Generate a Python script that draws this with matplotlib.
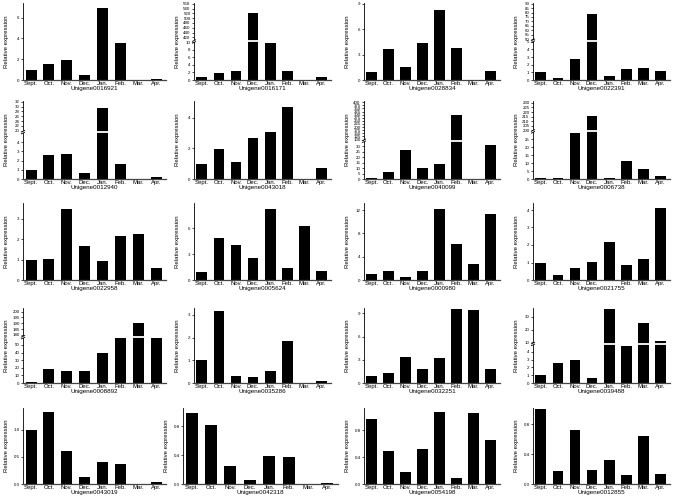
import numpy as np
import matplotlib
matplotlib.use('Agg')
import matplotlib.pyplot as plt

plt.rcParams['font.family'] = ['Liberation Sans', 'DejaVu Sans']

months = ['Sept.', 'Oct.', 'Nov.', 'Dec.', 'Jan.', 'Feb.', 'Mar.', 'Apr.']
months_nojan = ['Sept.', 'Oct.', 'Nov.', 'Dec.', '', 'Feb.', 'Mar.', 'Apr.']

genes = ['Unigene0016921', 'Unigene0016171', 'Unigene0028834', 'Unigene0022391',
         'Unigene0012940', 'Unigene0043018', 'Unigene0040099', 'Unigene0006738',
         'Unigene0022958', 'Unigene0005624', 'Unigene0000980', 'Unigene0021755',
         'Unigene0008892', 'Unigene0035286', 'Unigene0032251', 'Unigene0039488',
         'Unigene0043019', 'Unigene0042318', 'Unigene0054198', 'Unigene0012855']

# relative expression, Sept. -> Apr.
v0016921 = [1.0, 1.55, 1.95, 0.5, 6.9, 3.6, 0.0, 0.12]
v0016171 = [0.9, 1.8, 2.3, 521, 9.9, 2.3, 0.0, 0.7]
v0028834 = [0.95, 3.7, 1.5, 4.4, 8.3, 3.8, 0.0, 1.05]
v0022391 = [1.0, 0.25, 2.75, 78.5, 0.5, 1.4, 1.6, 1.2]
v0012940 = [1.0, 2.6, 2.7, 0.7, 29.5, 1.65, 0.02, 0.25]
v0043018 = [0.97, 1.93, 1.1, 2.66, 3.08, 4.7, 0.0, 0.73]
v0040099 = [1.0, 6.4, 26.3, 10.4, 14.0, 300, 0.0, 31.0]
v0006738 = [0.85, 0.5, 29.0, 216, 0.5, 11.4, 6.3, 1.7]
v0022958 = [1.0, 1.03, 3.5, 1.65, 0.92, 2.13, 2.23, 0.6]
v0005624 = [0.96, 4.8, 4.04, 2.6, 8.2, 1.38, 6.23, 1.0]
v0000980 = [1.0, 1.46, 0.45, 1.57, 12.1, 6.17, 2.75, 11.3]
v0021755 = [1.0, 0.27, 0.66, 1.03, 2.18, 0.87, 1.22, 4.13]
v0008892 = [0.9, 18.7, 16.0, 16.0, 40.0, 59.0, 190, 59.0]
v0035286 = [1.0, 3.17, 0.32, 0.25, 0.53, 1.85, 0.02, 0.09]
v0032251 = [0.97, 1.33, 3.3, 1.77, 3.2, 9.57, 9.4, 1.82]
v0039488 = [1.0, 2.6, 3.0, 0.6, 36.4, 4.75, 25.0, 11.0]
v0043019 = [1.0, 1.32, 0.6, 0.13, 0.40, 0.37, 0.0, 0.04]
v0042318 = [0.98, 0.81, 0.25, 0.06, 0.39, 0.37, 0.0, 0.01]
v0054198 = [0.97, 0.49, 0.185, 0.52, 1.07, 0.09, 1.05, 0.65]
v0012855 = [1.0, 0.18, 0.72, 0.19, 0.32, 0.12, 0.64, 0.14]

values = [v0016921, v0016171, v0028834, v0022391,
          v0012940, v0043018, v0040099, v0006738,
          v0022958, v0005624, v0000980, v0021755,
          v0008892, v0035286, v0032251, v0039488,
          v0043019, v0042318, v0054198, v0012855]

# y ticks for plain panels
yticks = {0: [0, 2, 4, 6], 2: [0, 3, 6, 9], 5: [0, 2, 4], 8: [0, 1, 2, 3],
          9: [0, 3, 6], 10: [0, 4, 8, 12], 11: [0, 1, 2, 3, 4], 13: [0, 1, 2, 3],
          14: [0, 3, 6, 9], 16: [0.0, 0.5, 1.0], 17: [0.0, 0.4, 0.8],
          18: [0.0, 0.4, 0.8], 19: [0.0, 0.4, 0.8]}
ytop = {0: 7.4, 2: 9.1, 5: 5.1, 8: 3.77, 9: 8.9, 10: 13.2, 11: 4.4, 13: 3.3,
        14: 9.7, 16: 1.4, 17: 1.05, 18: 1.13, 19: 1.02}

# broken axes: lower max, upper min, upper max, break fraction, lower ticks, upper ticks
breaks = {
    1: (10.2, 403, 563, 0.50, [0, 2, 4, 6, 8, 10], list(range(420, 561, 20))),
    3: (5.13, 48.1, 90.8, 0.51, [0, 1, 2, 3, 4, 5], list(range(50, 91, 5))),
    4: (5.1, 19.4, 32.3, 0.60, [0, 1, 2, 3, 4], list(range(20, 33, 2))),
    6: (35, 90, 410, 0.49, [0, 5, 10, 15, 20, 25, 30], list(range(100, 401, 25))),
    7: (30, 199, 232, 0.61, [0, 5, 10, 15, 20, 25], list(range(200, 231, 5))),
    12: (60, 178, 203, 0.61, [0, 10, 20, 30, 40, 50], list(range(180, 201, 5))),
    15: (5.0, 8.7, 37.0, 0.52, [0, 1, 2, 3, 4], [10, 20, 30]),
}


def broken_funcs(lo_max, hi_min, hi_max, frac):
    xs = [0, lo_max, hi_min, hi_max]
    ts = [0, frac, frac + 1e-4, 1]

    def fwd(y):
        y = np.asarray(y, dtype=float)
        return np.interp(y.ravel(), xs, ts).reshape(y.shape)

    def inv(t):
        t = np.asarray(t, dtype=float)
        return np.interp(t.ravel(), ts, xs).reshape(t.shape)
    return fwd, inv


W, H = 677, 498
fig = plt.figure(figsize=(W / 100, H / 100), dpi=100)

rows_px = [(3, 80), (101, 179), (203, 280), (308, 383), (408, 484)]
lefts_px = [23, 194, 364, 533]
widths_px = [143, 137, 136, 137]

x = np.arange(8)
for i in range(20):
    r, c = divmod(i, 4)
    top, bot = rows_px[r]
    left, wid = lefts_px[c], widths_px[c]
    if r == 4 and c == 1:
        left, wid = 183, 155
    h = bot - top
    ax = fig.add_axes([left / W, 1 - bot / H, wid / W, h / H])

    ax.bar(x, values[i], width=0.62, color='black', zorder=2)
    ax.set_xlim(-0.45, 7.55)

    if i in breaks:
        lo_max, hi_min, hi_max, frac, lt, ut = breaks[i]
        ax.set_yscale('function', functions=broken_funcs(lo_max, hi_min, hi_max, frac))
        ax.set_ylim(0, hi_max)
        ax.set_yticks(lt + ut)
        ax.set_yticklabels([str(t) for t in lt + ut])
        # white gap across the bars
        ax.axhline(lo_max, color='white', lw=1.3, zorder=3)
        # break marks on the axis
        for dy in (-0.012, 0.012):
            ax.plot([-0.012, 0.012], [frac + dy - 0.01, frac + dy + 0.01],
                    transform=ax.transAxes, color='black', lw=0.6, clip_on=False, zorder=4)
    else:
        ax.set_ylim(0, ytop[i])
        ax.set_yticks(yticks[i])
        if r == 4:
            ax.set_yticklabels(['%.1f' % t for t in yticks[i]])
        else:
            ax.set_yticklabels([str(t) for t in yticks[i]])

    ax.set_xticks(x)
    ax.set_xticklabels(months_nojan if i == 11 else months)

    for s in ['top', 'right']:
        ax.spines[s].set_visible(False)
    ax.spines['left'].set_linewidth(0.6)
    ax.spines['bottom'].set_linewidth(0.9)
    ax.spines['bottom'].set_color('#444444')
    ax.tick_params(axis='y', labelsize=3.2, length=1.5, width=0.5, pad=1)
    ax.tick_params(axis='x', labelsize=4.3, length=0, pad=1)

    ax.set_ylabel('Relative expression', fontsize=4.3)
    ax.yaxis.set_label_coords(-14 / wid, 0.5)
    ax.set_xlabel(genes[i], fontsize=4.5)
    ax.xaxis.set_label_coords(0.5, -6 / h)

fig.savefig('out.png', dpi=100)
